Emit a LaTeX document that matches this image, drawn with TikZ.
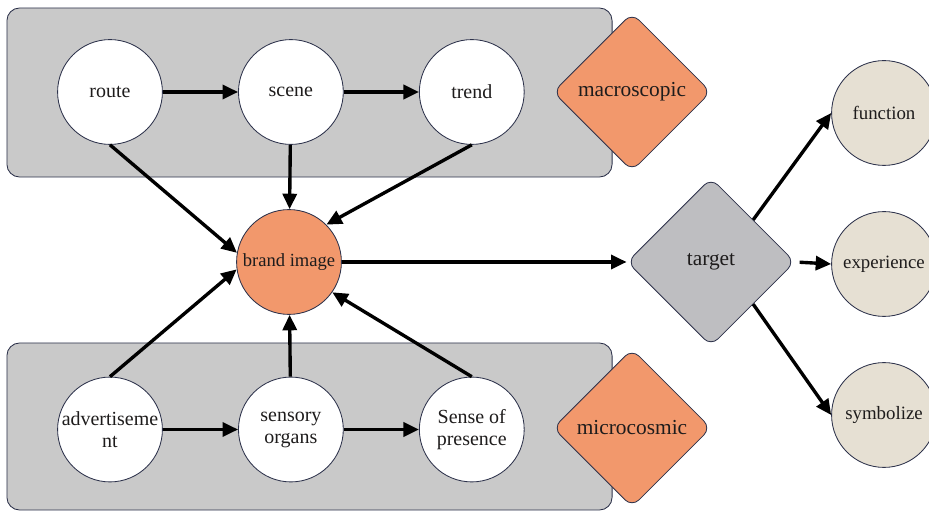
\documentclass[tikz,border=0pt]{standalone}
\usepackage{fontspec}
\setmainfont{Liberation Serif}
\usetikzlibrary{shapes.geometric, arrows.meta, positioning}
\definecolor{mydark}{RGB}{45,50,75}
\definecolor{myorange}{RGB}{242,152,108}
\definecolor{mygrey}{RGB}{190,190,193}
\definecolor{hdrgrey}{RGB}{201,201,201}
\definecolor{hdrbeige}{RGB}{230,224,211}
\definecolor{mytext}{RGB}{30,28,28}
\tikzset{
  panel/.style={rectangle, draw=mydark, fill=hdrgrey, rounded corners=9pt,
    minimum width=15.125cm, line width=0.6pt},
  ring/.style={circle, draw=mydark, fill=white, minimum size=2.62cm,
    inner sep=0pt, align=center, line width=0.6pt, text=mytext,
    font=\rmfamily\fontsize{14.2}{15.6}\selectfont},
  hubring/.style={ring, fill=myorange, font=\rmfamily\fontsize{13.2}{14}\selectfont},
  outring/.style={ring, fill=hdrbeige, font=\rmfamily\fontsize{13.4}{15}\selectfont},
  facet/.style={diamond, aspect=1, draw=mydark, fill=myorange,
    minimum width=3.95cm, minimum height=3.95cm, inner sep=0pt,
    rounded corners=7pt, line width=0.6pt, text=mytext,
    font=\rmfamily\fontsize{15.2}{17}\selectfont},
  arrow/.style={-{Triangle[length=11pt, width=10pt]}, line width=2.4pt, color=black}
}

\begin{document}
\begin{tikzpicture}[x=0.025cm, y=-0.025cm, node distance=1.88cm,
  goalbox/.style={facet, fill=mygrey, minimum width=4.2cm, minimum height=4.2cm}]
  \useasboundingbox (0,0) rectangle (929,511);
  \node[panel, minimum height=4.225cm] (macropanel) at (309.5,92.5) {};
  \node[panel, minimum height=4.175cm] (micropanel) at (309.5,426.5) {};
  \node[facet] (macro) at (632,92) {macroscopic};
  \node[facet] (micro) at (632,428) {microcosmic};
  \node[ring] (route) at (110,92) {route};
  \node[ring, right=of route] (scene) {scene};
  \node[ring, right=of scene] (trend) {trend};
  \node[ring] (advert) at (110,429.5) {advertiseme\\nt};
  \node[ring, right=of advert] (sensory) {sensory\\organs};
  \node[ring, right=of sensory] (presence) {Sense of\\presence};
  \node[hubring] (brand) at (289,262) {brand image};
  \node[goalbox] (target) at (711,262) {target};
  \node[outring] (function) at (884,113) {function};
  \node[outring] (experience) at (884,264) {experience};
  \node[outring] (symbolize) at (884,415) {symbolize};
  \draw[arrow] (route) -- (scene);
  \draw[arrow] (scene) -- (trend);
  \draw[arrow] (advert) -- (sensory);
  \draw[arrow] (sensory) -- (presence);
  \draw[arrow] (route.south) -- (brand.170);
  \draw[arrow] (scene) -- (brand);
  \draw[arrow] (trend.south) -- (brand.45);
  \draw[arrow] (advert.north) -- (brand.188);
  \draw[arrow] (sensory) -- (brand);
  \draw[arrow] (presence.north) -- (brand.-35);
  \draw[arrow] (brand) -- (target);
  \draw[arrow] (target.north east) -- (function.west);
  \draw[arrow, shorten <=3pt] (target.east) -- (experience.west);
  \draw[arrow] (target.south east) -- (symbolize.west);
\end{tikzpicture}
\end{document}
